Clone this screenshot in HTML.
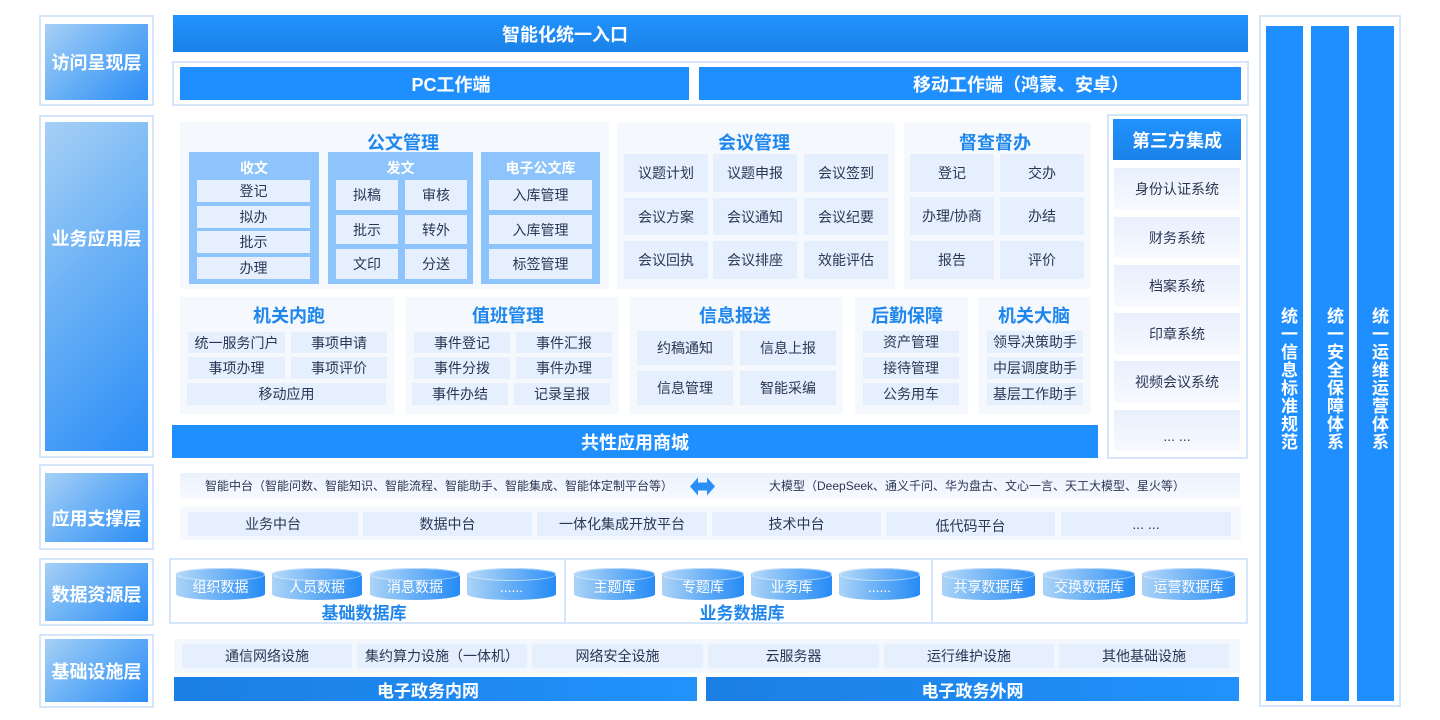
<!DOCTYPE html>
<html><head><meta charset="utf-8">
<style>
*{margin:0;padding:0;box-sizing:border-box}
body{width:1440px;height:720px;background:#fff;position:relative;overflow:hidden;font-family:"Liberation Sans","Noto Sans CJK SC",sans-serif;}
.a{position:absolute;display:flex;align-items:center;justify-content:center;white-space:nowrap}
.ob{border:2px solid #d5e6fa;background:#fff}
.lay{background:linear-gradient(135deg,#a6d0f5 0%,#6bb1f6 45%,#2a8df7 100%);color:#fff;font-weight:bold;font-size:18px;letter-spacing:0px}
.bar{background:#1f8fff;color:#fff;font-weight:bold;font-size:18px}
.pn{background:#f5f9fe}
.tt{color:#1e86ec;font-weight:bold;font-size:18px}
.it{background:#e5effd;color:#2c3654;font-size:14px}
.lb{background:#8dc4fb}
.lbt{color:#fff;font-weight:bold;font-size:14px}
.tp{background:linear-gradient(180deg,#e8f0fd,#f7faff);color:#2c3654;font-size:14px}
.cyl{position:absolute;height:32px;background:linear-gradient(90deg,#acd4f7,#5eaaf6 55%,#268bf6);border-radius:50% / 6px;color:#fff;font-size:14px;display:flex;align-items:center;justify-content:center;padding-top:6px;white-space:nowrap}
.cyl::before{content:"";position:absolute;left:0;top:0;right:0;height:11px;border-radius:50%;background:linear-gradient(90deg,#b4d8f8,#6cb1f7 55%,#3192f7);border:1px solid rgba(255,255,255,.55)}
.cyl span{position:relative}
.vt{writing-mode:vertical-rl;color:#fff;font-weight:bold;font-size:17px;letter-spacing:1px;position:absolute;top:307px}
.sp{background:#e5effd;color:#2c3654;font-size:14px}
.net{background:linear-gradient(90deg,#1b7fe3,#2192fc);color:#fff;font-weight:bold;font-size:17px}
</style></head><body>

<!-- Left layer labels -->
<div class="a ob" style="left:39px;top:15px;width:115px;height:91px"></div>
<div class="a lay" style="left:45px;top:24px;width:103px;height:76px">访问呈现层</div>
<div class="a ob" style="left:39px;top:115px;width:115px;height:343px"></div>
<div class="a lay" style="left:45px;top:122px;width:103px;height:329px;align-items:flex-start;padding-top:103px">业务应用层</div>
<div class="a ob" style="left:39px;top:464px;width:115px;height:86px"></div>
<div class="a lay" style="left:45px;top:473px;width:103px;height:69px;padding-top:20px">应用支撑层</div>
<div class="a ob" style="left:39px;top:558px;width:115px;height:68px"></div>
<div class="a lay" style="left:45px;top:563px;width:103px;height:58px;padding-top:4px">数据资源层</div>
<div class="a ob" style="left:39px;top:634px;width:115px;height:74px"></div>
<div class="a lay" style="left:45px;top:639px;width:103px;height:63px">基础设施层</div>

<!-- Top access -->
<div class="a" style="left:173px;top:15px;width:1075px;height:37px;background:linear-gradient(180deg,#2192fe,#1a82e8)"></div>
<div class="a" style="left:440px;top:15px;width:250px;height:37px;color:#fff;font-weight:bold;font-size:18px">智能化统一入口</div>
<div class="a ob" style="left:172px;top:61px;width:1077px;height:45px"></div>
<div class="a bar" style="left:180px;top:67px;width:509px;height:33px"></div>
<div class="a" style="left:380px;top:67px;width:142px;height:33px;color:#fff;font-weight:bold;font-size:18px">PC工作端</div>
<div class="a bar" style="left:699px;top:67px;width:542px;height:33px"></div>
<div class="a" style="left:880px;top:67px;width:282px;height:33px;color:#fff;font-weight:bold;font-size:18px">移动工作端（鸿蒙、安卓）</div>

<!-- 公文管理 -->
<div class="a pn" style="left:180px;top:122px;width:429px;height:167px"></div>
<div class="a tt" style="left:353px;top:131px;width:100px;height:22px">公文管理</div>
<div class="a lb" style="left:189px;top:152px;width:130px;height:132px"></div>
<div class="a lbt" style="left:189px;top:158px;width:130px;height:20px">收文</div>
<div class="a it" style="left:197px;top:180px;width:113px;height:22px">登记</div>
<div class="a it" style="left:197px;top:206px;width:113px;height:22px">拟办</div>
<div class="a it" style="left:197px;top:231px;width:113px;height:22px">批示</div>
<div class="a it" style="left:197px;top:257px;width:113px;height:22px">办理</div>
<div class="a lb" style="left:328px;top:152px;width:145px;height:132px"></div>
<div class="a lbt" style="left:328px;top:158px;width:145px;height:20px">发文</div>
<div class="a it" style="left:336px;top:180px;width:62px;height:30px">拟稿</div>
<div class="a it" style="left:405px;top:180px;width:62px;height:30px">审核</div>
<div class="a it" style="left:336px;top:215px;width:62px;height:29px">批示</div>
<div class="a it" style="left:405px;top:215px;width:62px;height:29px">转外</div>
<div class="a it" style="left:336px;top:249px;width:62px;height:30px">文印</div>
<div class="a it" style="left:405px;top:249px;width:62px;height:30px">分送</div>
<div class="a lb" style="left:481px;top:152px;width:119px;height:132px"></div>
<div class="a lbt" style="left:481px;top:158px;width:119px;height:20px">电子公文库</div>
<div class="a it" style="left:489px;top:180px;width:103px;height:30px">入库管理</div>
<div class="a it" style="left:489px;top:215px;width:103px;height:29px">入库管理</div>
<div class="a it" style="left:489px;top:249px;width:103px;height:30px">标签管理</div>

<!-- 会议管理 -->
<div class="a pn" style="left:617px;top:123px;width:278px;height:166px"></div>
<div class="a tt" style="left:704px;top:131px;width:100px;height:22px">会议管理</div>
<div class="a it" style="left:624px;top:154px;width:84px;height:38px">议题计划</div>
<div class="a it" style="left:713px;top:154px;width:84px;height:38px">议题申报</div>
<div class="a it" style="left:804px;top:154px;width:84px;height:38px">会议签到</div>
<div class="a it" style="left:624px;top:198px;width:84px;height:37px">会议方案</div>
<div class="a it" style="left:713px;top:198px;width:84px;height:37px">会议通知</div>
<div class="a it" style="left:804px;top:198px;width:84px;height:37px">会议纪要</div>
<div class="a it" style="left:624px;top:241px;width:84px;height:38px">会议回执</div>
<div class="a it" style="left:713px;top:241px;width:84px;height:38px">会议排座</div>
<div class="a it" style="left:804px;top:241px;width:84px;height:38px">效能评估</div>

<!-- 督查督办 -->
<div class="a pn" style="left:904px;top:123px;width:187px;height:166px"></div>
<div class="a tt" style="left:945px;top:131px;width:100px;height:22px">督查督办</div>
<div class="a it" style="left:910px;top:154px;width:84px;height:38px">登记</div>
<div class="a it" style="left:1000px;top:154px;width:84px;height:38px">交办</div>
<div class="a it" style="left:910px;top:197px;width:84px;height:38px">办理/协商</div>
<div class="a it" style="left:1000px;top:197px;width:84px;height:38px">办结</div>
<div class="a it" style="left:910px;top:241px;width:84px;height:38px">报告</div>
<div class="a it" style="left:1000px;top:241px;width:84px;height:38px">评价</div>

<!-- 第三方集成 -->
<div class="a ob" style="left:1107px;top:114px;width:141px;height:345px"></div>
<div class="a" style="left:1113px;top:119px;width:128px;height:41px;background:linear-gradient(180deg,#2192fe,#1a82e8);color:#fff;font-weight:bold;font-size:18px">第三方集成</div>
<div class="a tp" style="left:1114px;top:168px;width:126px;height:42px">身份认证系统</div>
<div class="a tp" style="left:1114px;top:217px;width:126px;height:41px">财务系统</div>
<div class="a tp" style="left:1114px;top:265px;width:126px;height:42px">档案系统</div>
<div class="a tp" style="left:1114px;top:313px;width:126px;height:42px">印章系统</div>
<div class="a tp" style="left:1114px;top:361px;width:126px;height:42px">视频会议系统</div>
<div class="a tp" style="left:1114px;top:410px;width:126px;height:41px;padding-top:10px">... ...</div>

<!-- 机关内跑 -->
<div class="a pn" style="left:180px;top:297px;width:214px;height:117px"></div>
<div class="a tt" style="left:239px;top:304px;width:100px;height:22px">机关内跑</div>
<div class="a it" style="left:188px;top:332px;width:97px;height:21px">统一服务门户</div>
<div class="a it" style="left:291px;top:332px;width:96px;height:21px">事项申请</div>
<div class="a it" style="left:188px;top:357px;width:97px;height:22px">事项办理</div>
<div class="a it" style="left:291px;top:357px;width:96px;height:22px">事项评价</div>
<div class="a it" style="left:187px;top:383px;width:199px;height:22px">移动应用</div>

<!-- 值班管理 -->
<div class="a pn" style="left:406px;top:297px;width:213px;height:117px"></div>
<div class="a tt" style="left:458px;top:304px;width:100px;height:22px">值班管理</div>
<div class="a it" style="left:414px;top:332px;width:96px;height:21px">事件登记</div>
<div class="a it" style="left:516px;top:332px;width:96px;height:21px">事件汇报</div>
<div class="a it" style="left:414px;top:357px;width:96px;height:22px">事件分拨</div>
<div class="a it" style="left:516px;top:357px;width:96px;height:22px">事件办理</div>
<div class="a it" style="left:412px;top:383px;width:96px;height:22px">事件办结</div>
<div class="a it" style="left:514px;top:383px;width:96px;height:22px">记录呈报</div>

<!-- 信息报送 -->
<div class="a pn" style="left:630px;top:297px;width:213px;height:117px"></div>
<div class="a tt" style="left:685px;top:304px;width:100px;height:22px">信息报送</div>
<div class="a it" style="left:637px;top:331px;width:96px;height:34px">约稿通知</div>
<div class="a it" style="left:740px;top:331px;width:96px;height:34px">信息上报</div>
<div class="a it" style="left:637px;top:371px;width:96px;height:34px">信息管理</div>
<div class="a it" style="left:740px;top:371px;width:96px;height:34px">智能采编</div>

<!-- 后勤保障 -->
<div class="a pn" style="left:855px;top:297px;width:113px;height:117px"></div>
<div class="a tt" style="left:857px;top:304px;width:100px;height:22px">后勤保障</div>
<div class="a it" style="left:863px;top:331px;width:96px;height:22px">资产管理</div>
<div class="a it" style="left:863px;top:357px;width:96px;height:22px">接待管理</div>
<div class="a it" style="left:863px;top:383px;width:96px;height:22px">公务用车</div>

<!-- 机关大脑 -->
<div class="a pn" style="left:978px;top:297px;width:113px;height:117px"></div>
<div class="a tt" style="left:984px;top:304px;width:100px;height:22px">机关大脑</div>
<div class="a it" style="left:987px;top:331px;width:96px;height:22px">领导决策助手</div>
<div class="a it" style="left:987px;top:357px;width:96px;height:22px">中层调度助手</div>
<div class="a it" style="left:987px;top:383px;width:96px;height:22px">基层工作助手</div>

<!-- 共性应用商城 -->
<div class="a bar" style="left:172px;top:425px;width:926px;height:33px">共性应用商城</div>

<!-- 应用支撑层 -->
<div class="a" style="left:180px;top:473px;width:1060px;height:25px;background:linear-gradient(180deg,#ebf2fd,#f6f9ff)"></div>
<div class="a" style="left:205px;top:473px;width:462px;height:25px;color:#2c3654;font-size:12px;justify-content:flex-start">智能中台（智能问数、智能知识、智能流程、智能助手、智能集成、智能体定制平台等）</div>
<svg style="position:absolute;left:690px;top:477px" width="25" height="19" viewBox="0 0 25 19"><polygon points="0,9.5 8,0.5 8,5.5 17,5.5 17,0.5 25,9.5 17,18.5 17,13.5 8,13.5 8,18.5" fill="#2a8ef7"/></svg>
<div class="a" style="left:769px;top:473px;width:420px;height:25px;color:#2c3654;font-size:12px;justify-content:flex-start">大模型（DeepSeek、通义千问、华为盘古、文心一言、天工大模型、星火等）</div>
<div class="a" style="left:180px;top:507px;width:1061px;height:33px;background:#f5f9fe"></div>
<div class="a sp" style="left:188px;top:512px;width:170px;height:24px">业务中台</div>
<div class="a sp" style="left:363px;top:512px;width:169px;height:24px">数据中台</div>
<div class="a sp" style="left:537px;top:512px;width:170px;height:24px">一体化集成开放平台</div>
<div class="a sp" style="left:712px;top:512px;width:169px;height:24px">技术中台</div>
<div class="a sp" style="left:886px;top:512px;width:169px;height:24px;padding-top:4px">低代码平台</div>
<div class="a sp" style="left:1061px;top:512px;width:170px;height:24px">... ...</div>

<!-- 数据资源层 -->
<div class="a ob" style="left:169px;top:558px;width:1079px;height:66px"></div>
<div class="a" style="left:564px;top:559px;width:2px;height:64px;background:#d5e6fa"></div>
<div class="a" style="left:931px;top:559px;width:2px;height:64px;background:#d5e6fa"></div>
<div class="cyl" style="left:176px;top:568px;width:89px"><span>组织数据</span></div>
<div class="cyl" style="left:272px;top:568px;width:90px"><span>人员数据</span></div>
<div class="cyl" style="left:370px;top:568px;width:90px"><span>消息数据</span></div>
<div class="cyl" style="left:467px;top:568px;width:89px"><span>......</span></div>
<div class="a tt" style="left:304px;top:600px;width:120px;height:22px;font-size:17px">基础数据库</div>
<div class="cyl" style="left:574px;top:568px;width:81px"><span>主题库</span></div>
<div class="cyl" style="left:662px;top:568px;width:82px"><span>专题库</span></div>
<div class="cyl" style="left:751px;top:568px;width:81px"><span>业务库</span></div>
<div class="cyl" style="left:839px;top:568px;width:81px"><span>......</span></div>
<div class="a tt" style="left:682px;top:600px;width:120px;height:22px;font-size:17px">业务数据库</div>
<div class="cyl" style="left:942px;top:568px;width:93px"><span>共享数据库</span></div>
<div class="cyl" style="left:1043px;top:568px;width:92px"><span>交换数据库</span></div>
<div class="cyl" style="left:1142px;top:568px;width:93px"><span>运营数据库</span></div>

<!-- 基础设施层 -->
<div class="a" style="left:174px;top:639px;width:1066px;height:34px;background:#f3f7fe"></div>
<div class="a sp" style="left:182px;top:644px;width:170px;height:24px">通信网络设施</div>
<div class="a sp" style="left:357px;top:644px;width:170px;height:24px">集约算力设施（一体机）</div>
<div class="a sp" style="left:532px;top:644px;width:171px;height:24px">网络安全设施</div>
<div class="a sp" style="left:708px;top:644px;width:171px;height:24px">云服务器</div>
<div class="a sp" style="left:884px;top:644px;width:170px;height:24px">运行维护设施</div>
<div class="a sp" style="left:1059px;top:644px;width:170px;height:24px">其他基础设施</div>
<div class="a net" style="left:174px;top:677px;width:523px;height:24px"></div>
<div class="a" style="left:368px;top:677px;width:120px;height:24px;color:#fff;font-weight:bold;font-size:17px">电子政务内网</div>
<div class="a net" style="left:706px;top:677px;width:533px;height:24px">电子政务外网</div>

<!-- Right columns -->
<div class="a ob" style="left:1259px;top:15px;width:142px;height:692px"></div>
<div class="a" style="left:1266px;top:26px;width:37px;height:675px;background:#1f8fff"></div>
<div class="a" style="left:1311px;top:26px;width:38px;height:675px;background:#1f8fff"></div>
<div class="a" style="left:1357px;top:26px;width:37px;height:675px;background:#1f8fff"></div>
<div class="vt" style="left:1275px">统一信息标准规范</div>
<div class="vt" style="left:1321px">统一安全保障体系</div>
<div class="vt" style="left:1366px">统一运维运营体系</div>

</body></html>
